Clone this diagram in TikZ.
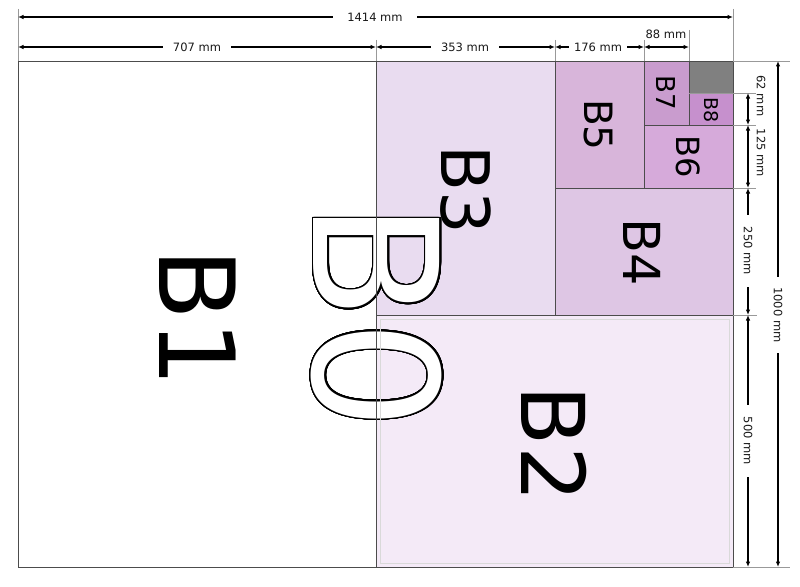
\documentclass[tikz,border=0pt]{standalone}
\usepackage{fontspec}
\setmainfont{DejaVu Sans}
\usepackage[copies]{contour}
\contourlength{1.5pt}
\contournumber{48}
\usetikzlibrary{arrows.meta}
\definecolor{cbtwo}{HTML}{F4EAF7}
\definecolor{cbthree}{HTML}{E9DCF0}
\definecolor{cbfour}{HTML}{DEC6E4}
\definecolor{cbfive}{HTML}{D8B5DA}
\definecolor{cbsix}{HTML}{D6AADA}
\definecolor{cbseven}{HTML}{C99CCE}
\definecolor{cbeight}{HTML}{C690CD}
\definecolor{cgray}{HTML}{808080}
\begin{document}
\begin{tikzpicture}[x=1pt,y=-1pt,
  sheet/.style={draw=black!70,line width=0.7pt},
  lab/.style={rotate=-90,inner sep=0pt},
  dimline/.style={line width=1.1pt,{Latex[length=5.5pt,width=4.5pt]}-{Latex[length=5.5pt,width=4.5pt]}},
  extline/.style={draw=black!40,line width=0.5pt},
  dimtxt/.style={font=\fontsize{11.5}{13}\selectfont,text=black!90,inner ysep=1pt}]
\useasboundingbox (0,0) rectangle (800,586);
\fill[white] (0,0) rectangle (800,586);
% corners
\coordinate (tl) at (18,61);
\coordinate (br) at (733,567);
% fills
\fill[white] (18,61) rectangle (733,567);
\fill[cbtwo] (376,315) rectangle (733,567);
\fill[cbthree] (376,61) rectangle (555,315);
\fill[cbfour] (555,188) rectangle (733,315);
\fill[cbfive] (555,61) rectangle (644,188);
\fill[cbsix] (644,125) rectangle (733,188);
\fill[cbseven] (644,61) rectangle (689,125);
\fill[cbeight] (689,93) rectangle (733,125);
\fill[cgray] (689,61) rectangle (733,93);
% big outlined label
\node[lab,font=\fontsize{173}{173}\selectfont] (lbzero) at (376,316)
  {\contour{black}{\textcolor{white}{B0}}};
% borders
\draw[sheet] (18,61) rectangle (733,567);
\draw[sheet] (376,61) -- (376,567);
\draw[sheet] (376,315) -- (733,315);
\draw[sheet] (555,61) -- (555,315);
\draw[sheet] (555,188) -- (733,188);
\draw[sheet] (644,61) -- (644,188);
\draw[sheet] (644,125) -- (733,125);
\draw[sheet] (689,61) -- (689,125);
\draw[sheet] (689,93) -- (733,93);
\draw[black!15,line width=0.6pt] (380,319) rectangle (729,563);
% labels
\node[lab,font=\fontsize{105}{105}\selectfont] (lbone) at (198,318) {B1};
\node[lab,font=\fontsize{88}{88}\selectfont] (lbtwo) at (554,444) {B2};
\node[lab,font=\fontsize{67}{67}\selectfont] (lbthree) at (466,190) {B3};
\node[lab,font=\fontsize{51}{51}\selectfont] (lbfour) at (642,252) {B4};
\node[lab,font=\fontsize{39}{39}\selectfont] (lbfive) at (598,125) {B5};
\node[lab,font=\fontsize{32}{32}\selectfont] (lbsix) at (688,157) {B6};
\node[lab,font=\fontsize{26}{26}\selectfont] (lbseven) at (666,93) {B7};
\node[lab,font=\fontsize{19}{19}\selectfont] (lbeight) at (711,110) {B8};
% extension lines
\draw[extline] (18,9) -- (18,61);
\draw[extline] (733,9) -- (733,61);
\draw[extline] (376,40) -- (376,61);
\draw[extline] (555,40) -- (555,61);
\draw[extline] (644,40) -- (644,61);
\draw[extline] (689,30) -- (689,61);
\draw[extline] (733,61) -- (790,61);
\draw[extline] (689,93) -- (756,93);
\draw[extline] (733,125) -- (756,125);
\draw[extline] (733,188) -- (756,188);
\draw[extline] (733,315) -- (757,315);
\draw[extline] (733,567) -- (790,567);
% dimension coordinates
\coordinate (ha) at (18,17); \coordinate (hb) at (733,17);
\coordinate (ra) at (18,47); \coordinate (rb) at (376,47);
\coordinate (rc) at (555,47); \coordinate (rd) at (644,47);
\coordinate (re) at (689,47);
\coordinate (va) at (748,93); \coordinate (vb) at (748,125);
\coordinate (vc) at (748,188); \coordinate (vd) at (748,315);
\coordinate (ve) at (748,567);
\coordinate (wa) at (778,61); \coordinate (wb) at (778,567);
% horizontal dims
\draw[dimline] (ha) -- (hb);
\node[dimtxt,fill=white,inner xsep=14pt] (dtot) at (375,17) {1414 mm};
\draw[dimline] (ra) -- (rb);
\node[dimtxt,fill=white,inner xsep=10pt] (dbone) at (197,47) {707 mm};
\draw[dimline] (rb) -- (rc);
\node[dimtxt,fill=white,inner xsep=10pt] (dbthree) at (465,47) {353 mm};
\draw[dimline] (rc) -- (rd);
\node[dimtxt,fill=white,inner xsep=5pt] (dbfive) at (598,47) {176 mm};
\draw[dimline] (rd) -- (re);
\node[dimtxt] (dbseven) at (666,34) {88 mm};
% vertical dims
\draw[dimline] (va) -- (vb);
\node[dimtxt,rotate=-90] (dbeight) at (761,96) {62 mm};
\draw[dimline] (vb) -- (vc);
\node[dimtxt,rotate=-90] (dbsix) at (761,153) {125 mm};
\draw[dimline] (vc) -- (vd);
\node[dimtxt,rotate=-90,fill=white,inner xsep=12pt] (dbfour) at (748,251) {250 mm};
\draw[dimline] (vd) -- (ve);
\node[dimtxt,rotate=-90,fill=white,inner xsep=12pt] (dbtwo) at (748,441) {500 mm};
\draw[dimline] (wa) -- (wb);
\node[dimtxt,rotate=-90,fill=white,inner xsep=10pt] (dtall) at (778,315) {1000 mm};
\end{tikzpicture}
\end{document}
